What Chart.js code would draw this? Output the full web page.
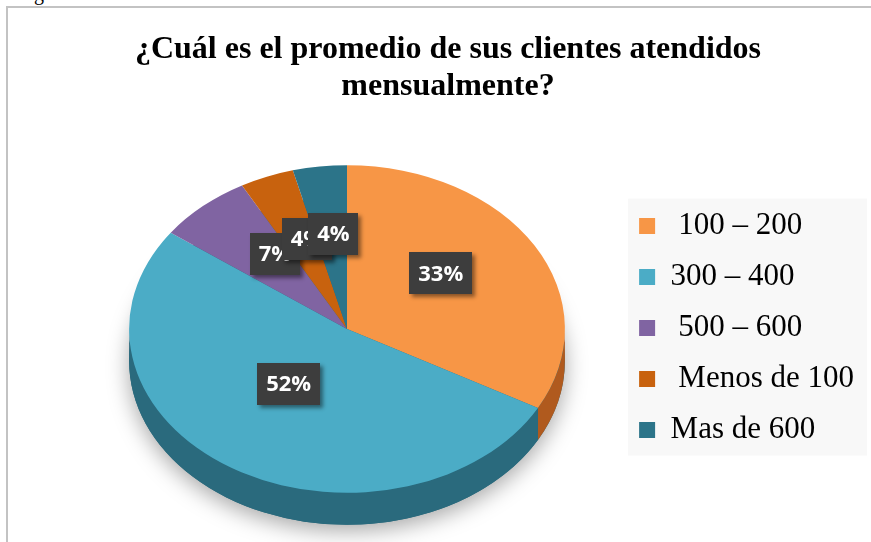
<!DOCTYPE html>
<html lang="es">
<head>
<meta charset="utf-8">
<title>Clientes atendidos mensualmente</title>
<script src="https://cdn.jsdelivr.net/npm/chart.js@4.4.1/dist/chart.umd.min.js"></script>
<style>
  html, body { margin: 0; padding: 0; background: #fff; overflow: hidden; }
  body { width: 871px; height: 542px; position: relative; }
  .frame { position: absolute; left: 6px; top: 6px; width: 900px; height: 560px; border-top: 2px solid #c3c3c3; border-left: 2px solid #c3c3c3; }
  .cut { position: absolute; left: 34px; top: -17px; font: 20px "Liberation Serif", serif; line-height: 20px; }
  #chart { position: absolute; left: 8px; top: 8px; }
</style>
</head>
<body>
<div class="cut">g</div>
<div class="frame"></div>
<canvas id="chart" width="880" height="540"></canvas>
<script>
const titleLines = ['¿Cuál es el promedio de sus clientes atendidos', 'mensualmente?'];
const categories = [' 100 – 200', '300 – 400', ' 500 – 600', ' Menos de 100', 'Mas de 600'];
const percentages = [33, 52, 7, 4, 4];
const topColors = ['#F79646', '#4BACC6', '#8064A2', '#C8620E', '#2C7489'];
const sideColors = ['#B05A1E', '#2A6A7D', '#5E4A78', '#8E450A', '#1F5463'];

// where the tilted pie sits and how it looks
const PIE = { cx: 339, cy: 321, squash: 0.752, depth: 32, labelR: 0.5, labelLift: 14 };
const serif = '"Liberation Serif", "Times New Roman", serif';

const pie3d = {
    id: 'pie3d',
    beforeDraw(chart) {
        // light panel behind the legend
        const hb = chart.legend.legendHitBoxes;
        if (!hb.length) return;
        const last = hb[hb.length - 1];
        const ctx = chart.ctx;
        ctx.save();
        ctx.fillStyle = '#f8f8f8';
        const left = hb[0].left - 11, top = hb[0].top - 12;
        ctx.fillRect(left, top, 859 - left, last.top + last.height + 10 - top);
        ctx.restore();
    },
    beforeDatasetsDraw(chart) {
        const ctx = chart.ctx;
        const arcs = chart.getDatasetMeta(0).data;
        const c = arcs[0];
        ctx.save();
        ctx.translate(PIE.cx, PIE.cy);
        ctx.scale(1, PIE.squash);
        ctx.translate(-c.x, -c.y);
        const d = PIE.depth / PIE.squash;

        // soft shadow under the disc
        ctx.save();
        ctx.shadowColor = 'rgba(0,0,0,0.35)';
        ctx.shadowBlur = 22;
        ctx.shadowOffsetY = 6;
        ctx.fillStyle = sideColors[1];
        ctx.beginPath();
        ctx.arc(c.x, c.y + d, c.outerRadius, 0, Math.PI * 2);
        ctx.fill();
        ctx.restore();

        // visible side wall (front half only)
        arcs.forEach((arc, i) => {
            const a0 = Math.max(arc.startAngle, 0);
            const a1 = Math.min(arc.endAngle, Math.PI);
            if (a1 <= a0) return;
            ctx.beginPath();
            ctx.arc(arc.x, arc.y, arc.outerRadius, a0, a1);
            ctx.arc(arc.x, arc.y + d, arc.outerRadius, a1, a0, true);
            ctx.closePath();
            ctx.fillStyle = sideColors[i];
            ctx.fill();
        });
    },
    afterDatasetsDraw(chart) {
        const ctx = chart.ctx;
        ctx.restore();

        const arcs = chart.getDatasetMeta(0).data;
        ctx.save();
        ctx.font = 'bold 22px "Open Sans", sans-serif';
        ctx.textAlign = 'center';
        ctx.textBaseline = 'middle';
        arcs.forEach((arc, i) => {
            const mid = (arc.startAngle + arc.endAngle) / 2;
            const r = arc.outerRadius * PIE.labelR;
            const x = PIE.cx + Math.cos(mid) * r;
            const y = PIE.cy + Math.sin(mid) * r * PIE.squash - PIE.labelLift;
            const text = percentages[i] + '%';
            const w = ctx.measureText(text).width + 18, h = 42;
            ctx.shadowColor = 'rgba(0,0,0,0.45)';
            ctx.shadowBlur = 4;
            ctx.shadowOffsetX = 3;
            ctx.shadowOffsetY = 3;
            ctx.fillStyle = '#3d3d3d';
            ctx.fillRect(Math.round(x - w / 2), Math.round(y - h / 2), Math.round(w), h);
            ctx.shadowColor = 'transparent';
            ctx.fillStyle = '#fff';
            ctx.fillText(text, x, y + 1);
        });
        ctx.restore();
    }
};

new Chart(document.getElementById('chart'), {
    type: 'pie',
    data: {
        labels: categories,
        datasets: [{
            data: percentages,
            backgroundColor: topColors,
            borderWidth: 0,
            hoverOffset: 0
        }]
    },
    options: {
        responsive: false,
        animation: false,
        events: [],
        layout: { padding: { top: 0, bottom: 2, left: 24, right: 24 } },
        plugins: {
            title: {
                display: true,
                text: titleLines,
                color: '#000',
                font: { family: serif, size: 32, weight: 'bold', lineHeight: 1.16 },
                padding: { top: 23, bottom: 5 }
            },
            legend: {
                position: 'right',
                align: 'center',
                fullSize: false,
                labels: {
                    boxWidth: 16,
                    boxHeight: 16,
                    padding: 20,
                    color: '#000',
                    font: { family: serif, size: 31 }
                }
            },
            tooltip: { enabled: false }
        }
    },
    plugins: [pie3d]
});
</script>
</body>
</html>
